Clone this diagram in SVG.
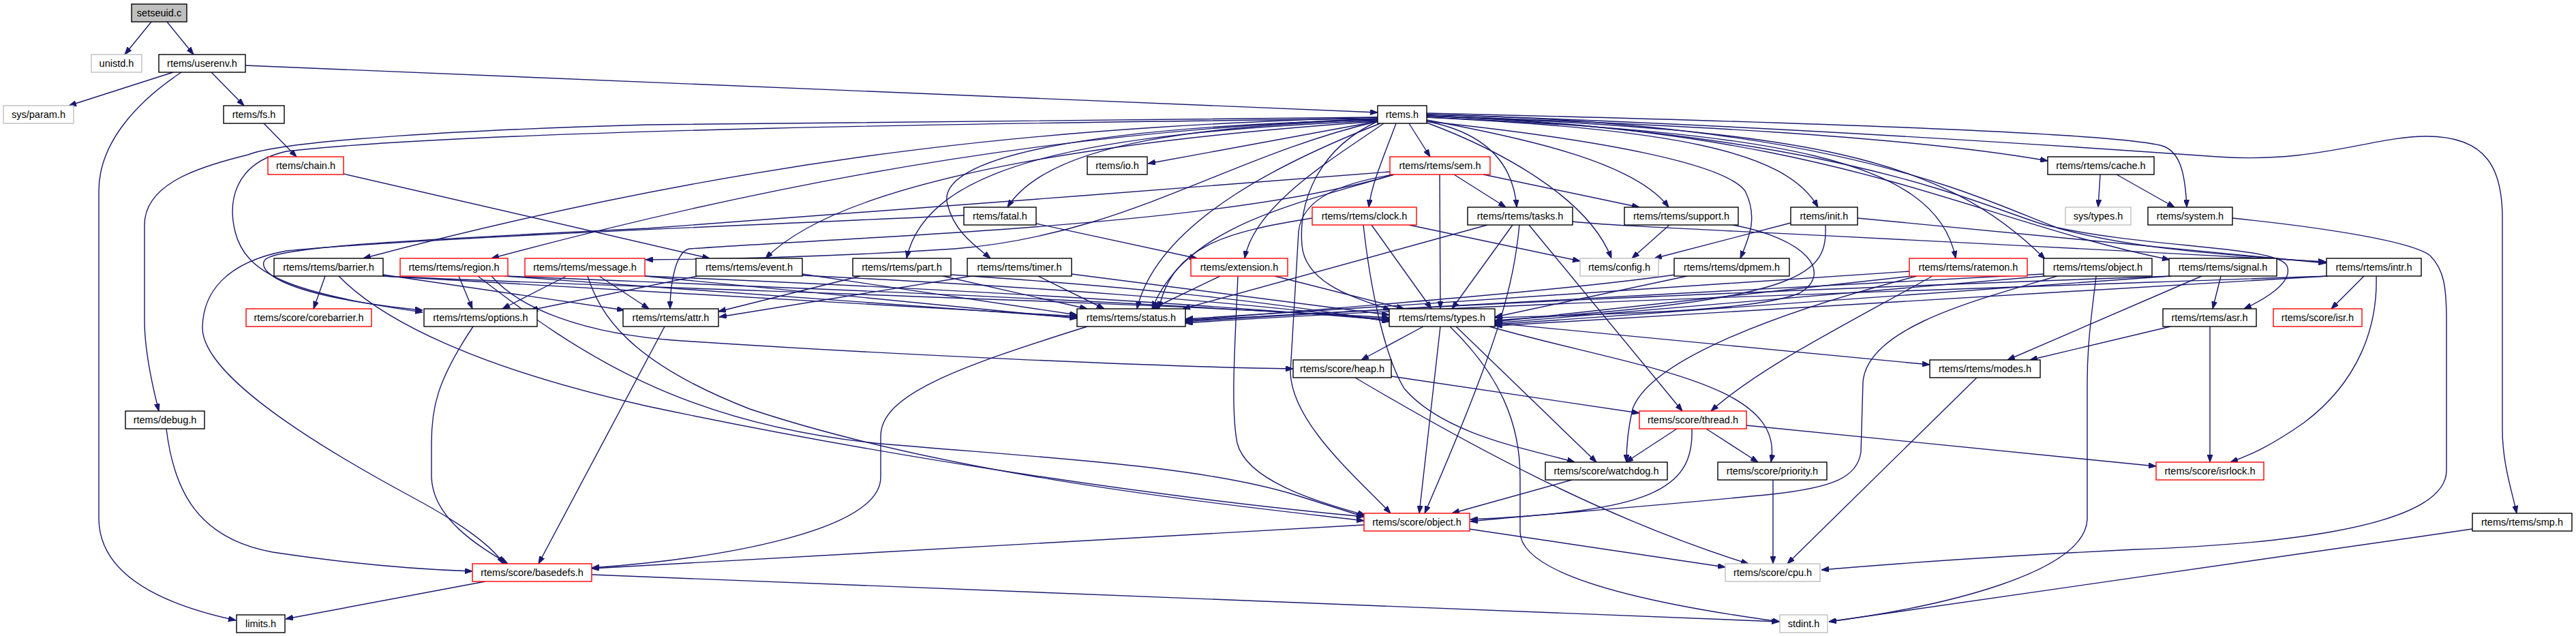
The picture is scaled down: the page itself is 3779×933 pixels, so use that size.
<svg xmlns="http://www.w3.org/2000/svg" width="3779" height="933" viewBox="0 0 3779 933">
<style>
.e{fill:none;stroke:#191970;stroke-width:1.4;marker-end:url(#ah)}
.n rect{fill:#fff;stroke:#000;stroke-width:1.4}
.r rect{fill:#fff;stroke:#ff0000;stroke-width:1.4}
.g rect{fill:#fff;stroke:#bfbfbf;stroke-width:1.4}
.m rect{fill:#bfbfbf;stroke:#000;stroke-width:1.4}
text{font-family:"Liberation Sans",Arial,Helvetica,sans-serif;font-size:14.5px;text-anchor:middle;fill:#000}
</style>
<defs>
<marker id="ah" viewBox="0 0 11 8" refX="11" refY="4" markerWidth="11" markerHeight="8" markerUnits="userSpaceOnUse" orient="auto">
<path d="M0,0 L11,4 L0,8 z" fill="#191970" stroke="#191970" stroke-width="1"/>
</marker>
</defs>
<rect x="0" y="0" width="3779" height="933" fill="#fff"/>
<g id="edges">
<path class="e" d="M222,32 L183,80"/>
<path class="e" d="M245,32 L284,80"/>
<path class="e" d="M254,106 L101,155"/>
<path class="e" d="M310,106 L358,155"/>
<path class="e" d="M266,106 C200,150 145,210 145,280 L145,760 C145,840 230,885 346,910"/>
<path class="e" d="M360,96 L2021,165"/>
<path class="e" d="M387,181 L435,230"/>
<path class="e" d="M504,255 L1041,379"/>
<path class="e" d="M2021,178 L1684,240"/>
<path class="e" d="M2067,181 L2098,230"/>
<path class="e" d="M2093,170 C2450,182 2800,200 3004,236"/>
<path class="e" d="M2021,175 C1780,185 1540,205 1478,304"/>
<path class="e" d="M2048,181 C2030,230 2012,270 2008,304"/>
<path class="e" d="M2093,178 C2180,195 2220,240 2225,304"/>
<path class="e" d="M2093,176 C2250,205 2400,240 2448,304"/>
<path class="e" d="M2093,172 C2450,190 2620,220 2667,304"/>
<path class="e" d="M2093,166 C2600,178 3120,195 3175,215 C3200,225 3206,260 3208,304"/>
<path class="e" d="M2021,172 C1600,185 1150,215 533,379"/>
<path class="e" d="M2021,174 C1600,190 1200,250 721,379"/>
<path class="e" d="M2021,178 C1800,230 1650,345 1400,365 C1200,378 1050,380 947,381"/>
<path class="e" d="M2021,178 C1700,200 1250,250 1123,379"/>
<path class="e" d="M2021,177 C1600,195 1360,240 1330,379"/>
<path class="e" d="M2021,176 C1600,185 1370,230 1390,300 C1400,340 1430,360 1453,379"/>
<path class="e" d="M2030,181 C1960,230 1840,300 1826,379"/>
<path class="e" d="M2093,180 C2200,220 2330,290 2364,379"/>
<path class="e" d="M2093,178 C2350,205 2530,240 2560,280 C2580,320 2565,350 2553,379"/>
<path class="e" d="M2093,172 C2600,195 2840,230 2869,379"/>
<path class="e" d="M2093,170 C2650,190 2850,230 3000,380"/>
<path class="e" d="M2093,170 C2700,190 2880,320 3183,381"/>
<path class="e" d="M2093,168 C2700,180 2900,290 3020,335 C3150,370 3300,375 3413,385"/>
<path class="e" d="M2021,174 C1500,180 700,190 420,222 C340,240 335,300 345,340 C360,400 420,430 620,458"/>
<path class="e" d="M2039,252 C1700,280 1200,315 950,335 C600,352 400,362 388,382 C378,400 420,435 620,455"/>
<path class="e" d="M2025,181 C1900,230 1700,320 1668,453"/>
<path class="e" d="M2021,178 C1930,220 1905,300 1910,360 C1915,420 2000,440 2040,455"/>
<path class="e" d="M2021,172 L950,183 C700,190 420,205 364,227 C290,245 212,270 212,330 L212,470 C212,510 222,560 233,603"/>
<path class="e" d="M2093,168 C2500,180 2900,205 3254,230 C3400,240 3480,200 3560,200 C3650,200 3671,250 3671,320 L3671,630 C3671,680 3685,720 3692,753"/>
<path class="e" d="M2093,170 C2700,195 2900,300 3000,330 C3150,365 3340,360 3355,390 C3365,415 3320,440 3292,453"/>
<path class="e" d="M2133,256 L2209,304"/>
<path class="e" d="M2176,256 L2405,304"/>
<path class="e" d="M2112,256 L2113,453"/>
<path class="e" d="M2045,256 C1800,330 1300,345 1011,365 C990,370 983,420 983,453"/>
<path class="e" d="M2045,256 C1900,300 1740,330 1690,453"/>
<path class="e" d="M2045,256 C1970,268 1910,290 1905,340 L1893,546 C1895,620 1990,700 2040,753"/>
<path class="e" d="M2182,330 L1735,453"/>
<path class="e" d="M2219,330 L2130,453"/>
<path class="e" d="M2229,330 C2220,420 2200,500 2090,753"/>
<path class="e" d="M2243,330 L2468,603"/>
<path class="e" d="M2307,325 C2360,332 2600,340 3412,384"/>
<path class="e" d="M2449,330 L2394,379"/>
<path class="e" d="M2542,330 C2650,350 2690,400 2640,430 C2580,455 2400,460 2193,466"/>
<path class="e" d="M2627,327 L2427,379"/>
<path class="e" d="M2678,330 C2680,400 2660,440 2193,470"/>
<path class="e" d="M2725,320 L3412,386"/>
<path class="e" d="M2067,330 L2318,383"/>
<path class="e" d="M2012,330 L2100,453"/>
<path class="e" d="M1925,320 C1800,340 1720,360 1700,453"/>
<path class="e" d="M2000,330 C2010,420 2030,520 2060,570 C2120,640 2250,660 2310,678"/>
<path class="e" d="M1520,328 L1756,379"/>
<path class="e" d="M1414,316 C1150,328 600,350 420,368 C330,385 298,430 297,480 C296,540 420,630 606,730 C680,770 720,800 739,827"/>
<path class="e" d="M477,405 L460,453"/>
<path class="e" d="M562,403 L916,455"/>
<path class="e" d="M562,405 L1580,464"/>
<path class="e" d="M562,405 C1000,425 1600,440 2038,466"/>
<path class="e" d="M497,405 C560,470 700,540 950,596 C1300,670 1700,730 2001,758"/>
<path class="e" d="M673,405 L693,453"/>
<path class="e" d="M740,405 L1580,466"/>
<path class="e" d="M745,405 C1100,420 1600,438 2038,468"/>
<path class="e" d="M721,405 C760,450 850,490 1000,500 C1300,520 1700,538 1897,541"/>
<path class="e" d="M701,405 C850,520 1000,620 1283,650 C1500,670 1750,680 1900,726 L2001,758"/>
<path class="e" d="M831,405 L737,453"/>
<path class="e" d="M879,405 L952,453"/>
<path class="e" d="M946,405 L1580,467"/>
<path class="e" d="M946,405 C1300,420 1700,440 2038,470"/>
<path class="e" d="M862,405 C880,460 920,530 1100,600 C1400,700 1800,740 2001,764"/>
<path class="e" d="M1023,405 L778,455"/>
<path class="e" d="M1177,402 L1580,462"/>
<path class="e" d="M1177,404 C1500,420 1800,440 2038,471"/>
<path class="e" d="M1262,405 L1054,457"/>
<path class="e" d="M1383,405 L1595,453"/>
<path class="e" d="M1395,403 C1650,420 1850,440 2038,472"/>
<path class="e" d="M1425,405 L1055,465"/>
<path class="e" d="M1523,405 L1620,453"/>
<path class="e" d="M1572,402 L2038,462"/>
<path class="e" d="M1790,405 L1690,453"/>
<path class="e" d="M1870,405 L2060,453"/>
<path class="e" d="M1816,405 C1812,500 1805,600 1815,650 C1830,710 1950,740 2003,756"/>
<path class="e" d="M2458,403 C2300,425 2050,445 1739,470"/>
<path class="e" d="M2475,405 L2193,465"/>
<path class="e" d="M2801,398 C2500,420 2100,445 1739,468"/>
<path class="e" d="M2805,405 L2193,472"/>
<path class="e" d="M2835,405 C2700,480 2580,540 2510,603"/>
<path class="e" d="M2812,405 C2600,460 2420,530 2395,600 C2388,630 2386,655 2386,678"/>
<path class="e" d="M2998,402 C2600,425 2100,447 1739,470"/>
<path class="e" d="M3000,405 L2193,474"/>
<path class="e" d="M3018,405 C2900,440 2740,480 2733,560 L2730,663 C2725,700 2690,715 2600,725 C2400,745 2250,755 2157,765"/>
<path class="e" d="M3075,405 C3070,450 3062,500 3062,560 L3062,760 C3062,840 2850,890 2683,912"/>
<path class="e" d="M3185,405 C2500,430 2100,448 1739,472"/>
<path class="e" d="M3185,405 L2193,476"/>
<path class="e" d="M3258,405 L3246,453"/>
<path class="e" d="M3230,405 L2945,528"/>
<path class="e" d="M3415,405 C2700,430 2100,449 1739,474"/>
<path class="e" d="M3415,405 L2193,478"/>
<path class="e" d="M3468,405 L3420,453"/>
<path class="e" d="M3486,405 C3488,480 3460,560 3380,620 C3330,655 3300,668 3272,678"/>
<path class="e" d="M694,479 C640,560 633,600 633,650 L633,700 C635,760 700,800 745,827"/>
<path class="e" d="M975,479 L790,827"/>
<path class="e" d="M1595,479 C1400,540 1292,580 1292,640 L1292,700 C1292,780 1050,820 868,833"/>
<path class="e" d="M2088,479 L1997,528"/>
<path class="e" d="M2113,479 L2082,753"/>
<path class="e" d="M2127,479 C2200,550 2230,620 2230,700 L2230,780 C2230,850 2450,890 2611,912"/>
<path class="e" d="M2136,479 L2342,678"/>
<path class="e" d="M2185,479 C2400,540 2620,560 2598,678"/>
<path class="e" d="M2193,474 L2831,535"/>
<path class="e" d="M3184,479 L2978,528"/>
<path class="e" d="M3242,479 L3242,678"/>
<path class="e" d="M2041,552 L2405,606"/>
<path class="e" d="M1988,554 C2150,650 2350,760 2565,827"/>
<path class="e" d="M2900,554 L2622,827"/>
<path class="e" d="M244,629 C255,720 290,790 400,810 C500,825 600,835 693,838"/>
<path class="e" d="M2460,629 L2385,678"/>
<path class="e" d="M2503,629 L2579,678"/>
<path class="e" d="M2482,629 C2485,720 2420,750 2157,762"/>
<path class="e" d="M2562,624 L3163,684"/>
<path class="e" d="M2306,704 L2130,753"/>
<path class="e" d="M2601,704 L2601,827"/>
<path class="e" d="M2155,776 L2531,832"/>
<path class="e" d="M2001,770 L868,834"/>
<path class="e" d="M3627,776 L2683,912"/>
<path class="e" d="M712,853 L419,908"/>
<path class="e" d="M868,843 L2610,912"/>
<path class="e" d="M3081,256 L3078,304"/>
<path class="e" d="M3105,256 L3190,304"/>
<path class="e" d="M3275,320 C3420,335 3540,355 3565,375 C3585,395 3589,420 3589,470 L3589,690 C3589,780 3300,800 3133,806 C2950,815 2800,825 2672,836"/>
</g>
<g id="n-setseuid" class="m"><rect x="193" y="6" width="81" height="26"/><text x="233.5" y="24">setseuid.c</text></g>
<g id="n-unistd" class="g"><rect x="134" y="80" width="74" height="26"/><text x="171" y="98">unistd.h</text></g>
<g id="n-userenv" class="n"><rect x="233" y="80" width="127" height="26"/><text x="296.5" y="98">rtems/userenv.h</text></g>
<g id="n-sysparam" class="g"><rect x="5" y="155" width="103" height="26"/><text x="56.5" y="173">sys/param.h</text></g>
<g id="n-fs" class="n"><rect x="328" y="155" width="89" height="26"/><text x="372.5" y="173">rtems/fs.h</text></g>
<g id="n-rtems" class="n"><rect x="2021" y="155" width="72" height="26"/><text x="2057" y="173">rtems.h</text></g>
<g id="n-chain" class="r"><rect x="393" y="230" width="111" height="26"/><text x="448.5" y="248">rtems/chain.h</text></g>
<g id="n-io" class="n"><rect x="1595" y="230" width="88" height="26"/><text x="1639" y="248">rtems/io.h</text></g>
<g id="n-sem" class="r"><rect x="2039" y="230" width="147" height="26"/><text x="2112.5" y="248">rtems/rtems/sem.h</text></g>
<g id="n-cache" class="n"><rect x="3004" y="230" width="156" height="26"/><text x="3082" y="248">rtems/rtems/cache.h</text></g>
<g id="n-fatal" class="n"><rect x="1414" y="304" width="106" height="26"/><text x="1467" y="322">rtems/fatal.h</text></g>
<g id="n-clock" class="r"><rect x="1925" y="304" width="153" height="26"/><text x="2001.5" y="322">rtems/rtems/clock.h</text></g>
<g id="n-tasks" class="n"><rect x="2153" y="304" width="154" height="26"/><text x="2230" y="322">rtems/rtems/tasks.h</text></g>
<g id="n-support" class="n"><rect x="2383" y="304" width="167" height="26"/><text x="2466.5" y="322">rtems/rtems/support.h</text></g>
<g id="n-init" class="n"><rect x="2627" y="304" width="98" height="26"/><text x="2676" y="322">rtems/init.h</text></g>
<g id="n-systypes" class="g"><rect x="3030" y="304" width="96" height="26"/><text x="3078" y="322">sys/types.h</text></g>
<g id="n-system" class="n"><rect x="3151" y="304" width="124" height="26"/><text x="3213" y="322">rtems/system.h</text></g>
<g id="n-barrier" class="n"><rect x="402" y="379" width="160" height="26"/><text x="482" y="397">rtems/rtems/barrier.h</text></g>
<g id="n-region" class="r"><rect x="587" y="379" width="158" height="26"/><text x="666" y="397">rtems/rtems/region.h</text></g>
<g id="n-message" class="r"><rect x="770" y="379" width="176" height="26"/><text x="858" y="397">rtems/rtems/message.h</text></g>
<g id="n-event" class="n"><rect x="1021" y="379" width="156" height="26"/><text x="1099" y="397">rtems/rtems/event.h</text></g>
<g id="n-part" class="n"><rect x="1251" y="379" width="144" height="26"/><text x="1323" y="397">rtems/rtems/part.h</text></g>
<g id="n-timer" class="n"><rect x="1419" y="379" width="153" height="26"/><text x="1495.5" y="397">rtems/rtems/timer.h</text></g>
<g id="n-extension" class="r"><rect x="1747" y="379" width="142" height="26"/><text x="1818" y="397">rtems/extension.h</text></g>
<g id="n-config" class="g"><rect x="2318" y="379" width="115" height="26"/><text x="2375.5" y="397">rtems/config.h</text></g>
<g id="n-dpmem" class="n"><rect x="2456" y="379" width="169" height="26"/><text x="2540.5" y="397">rtems/rtems/dpmem.h</text></g>
<g id="n-ratemon" class="r"><rect x="2801" y="379" width="173" height="26"/><text x="2887.5" y="397">rtems/rtems/ratemon.h</text></g>
<g id="n-objectr" class="n"><rect x="2998" y="379" width="159" height="26"/><text x="3077.5" y="397">rtems/rtems/object.h</text></g>
<g id="n-signal" class="n"><rect x="3182" y="379" width="158" height="26"/><text x="3261" y="397">rtems/rtems/signal.h</text></g>
<g id="n-intr" class="n"><rect x="3413" y="379" width="139" height="26"/><text x="3482.5" y="397">rtems/rtems/intr.h</text></g>
<g id="n-corebarrier" class="r"><rect x="361" y="453" width="184" height="26"/><text x="453" y="471">rtems/score/corebarrier.h</text></g>
<g id="n-options" class="n"><rect x="622" y="453" width="166" height="26"/><text x="705" y="471">rtems/rtems/options.h</text></g>
<g id="n-attr" class="n"><rect x="914" y="453" width="140" height="26"/><text x="984" y="471">rtems/rtems/attr.h</text></g>
<g id="n-status" class="n"><rect x="1580" y="453" width="159" height="26"/><text x="1659.5" y="471">rtems/rtems/status.h</text></g>
<g id="n-types" class="n"><rect x="2038" y="453" width="155" height="26"/><text x="2115.5" y="471">rtems/rtems/types.h</text></g>
<g id="n-asr" class="n"><rect x="3173" y="453" width="137" height="26"/><text x="3241.5" y="471">rtems/rtems/asr.h</text></g>
<g id="n-isr" class="r"><rect x="3335" y="453" width="130" height="26"/><text x="3400" y="471">rtems/score/isr.h</text></g>
<g id="n-heap" class="n"><rect x="1897" y="528" width="144" height="26"/><text x="1969" y="546">rtems/score/heap.h</text></g>
<g id="n-modes" class="n"><rect x="2831" y="528" width="162" height="26"/><text x="2912" y="546">rtems/rtems/modes.h</text></g>
<g id="n-debug" class="n"><rect x="184" y="603" width="116" height="26"/><text x="242" y="621">rtems/debug.h</text></g>
<g id="n-thread" class="r"><rect x="2405" y="603" width="157" height="26"/><text x="2483.5" y="621">rtems/score/thread.h</text></g>
<g id="n-watchdog" class="n"><rect x="2267" y="678" width="179" height="26"/><text x="2356.5" y="696">rtems/score/watchdog.h</text></g>
<g id="n-priority" class="n"><rect x="2520" y="678" width="160" height="26"/><text x="2600" y="696">rtems/score/priority.h</text></g>
<g id="n-isrlock" class="r"><rect x="3163" y="678" width="158" height="26"/><text x="3242" y="696">rtems/score/isrlock.h</text></g>
<g id="n-scoreobject" class="r"><rect x="2001" y="753" width="155" height="26"/><text x="2078.5" y="771">rtems/score/object.h</text></g>
<g id="n-smp" class="n"><rect x="3627" y="753" width="146" height="26"/><text x="3700" y="771">rtems/rtems/smp.h</text></g>
<g id="n-basedefs" class="r"><rect x="693" y="827" width="175" height="26"/><text x="780.5" y="845">rtems/score/basedefs.h</text></g>
<g id="n-cpu" class="g"><rect x="2531" y="827" width="139" height="26"/><text x="2600.5" y="845">rtems/score/cpu.h</text></g>
<g id="n-limits" class="n"><rect x="347" y="902" width="71" height="26"/><text x="382.5" y="920">limits.h</text></g>
<g id="n-stdint" class="g"><rect x="2611" y="902" width="70" height="26"/><text x="2646" y="920">stdint.h</text></g>
</svg>
